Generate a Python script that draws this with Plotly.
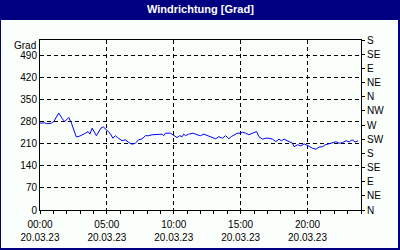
import plotly.graph_objects as go

# ---- data -------------------------------------------------------------
times = [
    "00:00", "00:21", "00:30", "00:51", "01:02", "01:24", "01:40", "01:51", "02:09", "02:21",
    "02:43", "02:59", "03:21", "03:36", "03:44", "03:54", "04:13", "04:33", "04:44", "04:58",
    "05:14", "05:27", "05:38", "05:48", "06:08", "06:23", "06:37", "06:53", "07:08", "07:22",
    "07:38", "07:53", "08:07", "08:23", "08:45", "09:08", "09:15", "09:23", "09:45", "10:00",
    "10:15", "10:27", "10:38", "10:45", "10:53", "11:07", "11:27", "11:45", "12:00", "12:15",
    "12:30", "12:53", "13:08", "13:22", "13:38", "13:53", "14:07", "14:18", "14:30", "14:45",
    "15:00", "15:08", "15:23", "15:37", "15:53", "16:08", "16:12", "16:22", "16:38", "16:53",
    "17:07", "17:23", "17:38", "17:52", "18:03", "18:15", "18:30", "18:42", "18:53", "19:00",
    "19:15", "19:30", "19:45", "20:03", "20:23", "20:38", "20:52", "21:08", "21:19", "21:35",
    "21:53", "22:08", "22:22", "22:38", "22:53", "23:07", "23:20", "23:34", "23:47",
]
direction = [
    276, 277, 274, 276, 281, 308, 290, 281, 294, 276,
    232, 235, 243, 249, 241, 260, 236, 260, 264, 255,
    244, 228, 236, 230, 220, 223, 215, 209, 212, 223,
    226, 236, 236, 239, 239, 241, 236, 244, 244, 236,
    230, 236, 233, 241, 236, 241, 244, 239, 236, 241,
    236, 230, 226, 233, 228, 236, 226, 233, 239, 244,
    244, 247, 244, 239, 244, 249, 249, 233, 225, 228,
    228, 225, 217, 225, 220, 225, 220, 217, 212, 201,
    207, 204, 210, 204, 196, 193, 200, 201, 207, 210,
    214, 217, 212, 214, 220, 216, 223, 216, 220,
]
date = "2023-03-20"
x_tick_hours = ["00:00", "05:00", "10:00", "15:00", "20:00"]
x_tick_date = "20.03.23"
left_ticks = [0, 70, 140, 210, 280, 350, 420, 490]
right_ticks = [0, 45, 90, 135, 180, 225, 270, 315, 360, 405, 450, 495, 540]
right_labels = ["N", "NE", "E", "SE", "S", "SW", "W", "NW", "N", "NE", "E", "SE", "S"]
title_text = "Windrichtung [Grad]"
unit_text = "Grad"

# ---- layout geometry (pixels) ------------------------------------------
W, H = 400, 250
L, R, T, B = 40, 39, 40, 40
PW, PH = W - L - R, H - T - B
FONT = "Liberation Sans"
NAVY = "#000080"
BG = "#fbfffb"


def px(xp):
    return (xp - L) / PW


def py(yp):
    return (H - B - yp) / PH


xs = [f"{date} {t}" for t in times]

fig = go.Figure()
fig.add_trace(go.Scatter(x=xs, y=direction, mode="lines",
                         line=dict(color="#0000ff", width=1),
                         hoverinfo="skip", showlegend=False))
fig.add_trace(go.Scatter(x=[xs[0]], y=[0], yaxis="y2", mode="markers",
                         marker=dict(opacity=0), hoverinfo="skip", showlegend=False))

fig.update_layout(
    width=W, height=H,
    margin=dict(l=L, r=R, t=T, b=B, pad=0, autoexpand=False),
    paper_bgcolor=BG, plot_bgcolor=BG,
    font=dict(family=FONT, size=10, color="black"),
    xaxis=dict(
        type="date", automargin=False,
        range=[f"{date} 00:00", "2023-03-21 00:00"],
        tickvals=[f"{date} {h}" for h in x_tick_hours],
        ticktext=[f"{h}<br>{x_tick_date}" for h in x_tick_hours],
        ticks="outside", ticklen=3, tickcolor="black", tickwidth=1,
        ticklabelstandoff=2,
        minor=dict(dtick=3600000, ticks="outside", ticklen=3, tickcolor="black", showgrid=False),
        showgrid=True, gridcolor="black", gridwidth=1, griddash="4px,3px",
        showline=True, linecolor="black", linewidth=1, mirror=True,
        zeroline=False, fixedrange=True,
    ),
    yaxis=dict(
        range=[0, 540], automargin=False,
        tickvals=left_ticks,
        ticks="", showgrid=True, gridcolor="black", gridwidth=1, griddash="4px,3px",
        showline=True, linecolor="black", linewidth=1, mirror=True,
        zeroline=False, fixedrange=True,
    ),
    yaxis2=dict(
        overlaying="y", side="right", range=[0, 540], automargin=False,
        tickvals=right_ticks, ticktext=right_labels,
        ticks="outside", ticklen=3, tickcolor="black",
        showgrid=False, showline=True, linecolor="black", linewidth=1,
        zeroline=False, fixedrange=True,
    ),
    shapes=[
        # title band
        dict(type="rect", xref="paper", yref="paper", layer="above",
             x0=px(0), x1=px(W), y0=py(20), y1=py(0),
             fillcolor=NAVY, line=dict(width=0)),
        # left border
        dict(type="rect", xref="paper", yref="paper", layer="above",
             x0=px(0), x1=px(1), y0=py(H), y1=py(0),
             fillcolor=NAVY, line=dict(width=0)),
        # right border
        dict(type="rect", xref="paper", yref="paper", layer="above",
             x0=px(W - 2), x1=px(W), y0=py(H), y1=py(0),
             fillcolor=NAVY, line=dict(width=0)),
        # bottom border
        dict(type="rect", xref="paper", yref="paper", layer="above",
             x0=px(0), x1=px(W), y0=py(H), y1=py(H - 2),
             fillcolor=NAVY, line=dict(width=0)),
    ],
    annotations=[
        dict(text=f"<b>{title_text}</b>", xref="paper", yref="paper",
             x=px(200), y=py(9), xanchor="center", yanchor="middle",
             showarrow=False, font=dict(family=FONT, size=11, color="white")),
        dict(text=unit_text, xref="paper", yref="paper",
             x=px(25), y=py(45), xanchor="center", yanchor="middle",
             showarrow=False, font=dict(family=FONT, size=10, color="black")),
    ],
)

fig.write_html("out.html")
